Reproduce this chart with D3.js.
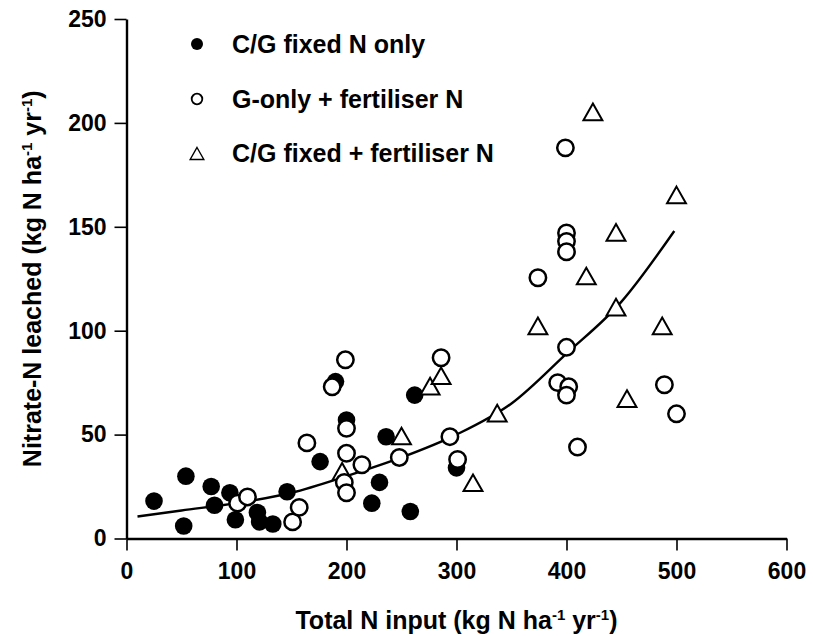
<!DOCTYPE html>
<html>
<head>
<meta charset="utf-8">
<script src="https://cdn.jsdelivr.net/npm/d3@7"></script>
<style>
  body { margin: 0; background: #fff; }
  text { font-family: "Liberation Sans", Arial, Helvetica, sans-serif; font-weight: bold; fill: #000; }
</style>
</head>
<body>
<div id="chart"></div>
<script>
var svgWidth = 813;
var svgHeight = 636;

var margin = { top: 19, right: 26, bottom: 97, left: 126.5 };
var width = 660;
var height = 519.5;

// data: [total N input, nitrate-N leached]
var fixedOnly = [
  [25, 18], [52, 6], [54, 30], [77, 25], [80, 16], [94, 22], [99, 9],
  [119, 12.5], [121, 8], [133, 7], [146, 22.5], [176, 37], [190, 75.5],
  [200, 57], [223, 17], [230, 27], [236, 49], [258, 13], [262, 69], [300, 34]
];
var gOnlyFert = [
  [101, 17], [110, 20], [151, 8], [157, 15], [164, 46], [187, 73], [199, 86],
  [198, 27], [200, 22], [200, 41], [200, 53], [214, 35.5], [248, 39], [286, 87],
  [294, 49], [301, 38], [374, 125.5], [392, 75], [400, 92], [399, 188],
  [400, 147], [400, 143], [400, 138], [402, 73], [400, 69], [410, 44],
  [489, 74], [500, 60]
];
var fixedFert = [
  [196, 32], [250, 49], [276, 73], [286, 78], [315, 26.5], [337, 60],
  [374, 102], [418, 126], [424, 205], [445, 147], [445, 111], [455, 67],
  [487, 102], [500, 165]
];
// fitted curve, points
var fitLine = [
  [10, 10.6], [50, 13.5], [100, 17], [150, 22], [200, 30], [250, 39],
  [300, 50], [350, 65], [400, 89], [450, 114], [498, 148]
];

var xTicks = [0, 100, 200, 300, 400, 500, 600];
var yTicks = [0, 50, 100, 150, 200, 250];
var legendLabels = ["C/G fixed N only", "G-only + fertiliser N", "C/G fixed + fertiliser N"];

var svg = d3.select("#chart")
  .append("svg")
  .attr("width", svgWidth)
  .attr("height", svgHeight);

var chartGroup = svg.append("g")
  .attr("transform", `translate(${margin.left}, ${margin.top})`);

var xScale = d3.scaleLinear().domain([0, 600]).range([0, width]);
var yScale = d3.scaleLinear().domain([0, 250]).range([height, 0]);

// axes
var xAxis = d3.axisBottom(xScale).tickValues(xTicks).tickSize(12).tickSizeOuter(0).tickPadding(12);
var yAxis = d3.axisLeft(yScale).tickValues(yTicks).tickSize(12).tickSizeOuter(0).tickPadding(8);

var xg = chartGroup.append("g")
  .attr("transform", `translate(0, ${height})`)
  .call(xAxis);
var yg = chartGroup.append("g").call(yAxis);

[xg, yg].forEach(function(g) {
  g.attr("font-family", null).attr("font-size", null);
  g.select(".domain").attr("stroke", "#000").attr("stroke-width", 2.4);
  g.selectAll(".tick line").attr("stroke", "#000").attr("stroke-width", 1.6);
  g.selectAll(".tick text").style("font-size", "23px");
});

// fitted curve
var line = d3.line()
  .x(d => xScale(d[0]))
  .y(d => yScale(d[1]))
  .curve(d3.curveMonotoneX);

chartGroup.append("path")
  .datum(fitLine)
  .attr("fill", "none")
  .attr("stroke", "#000")
  .attr("stroke-width", 2.4)
  .attr("d", line);

function triPath(s) {
  return `M0,${-s} L${s * 1.05},${s * 0.85} L${-s * 1.05},${s * 0.85} Z`;
}

// points
chartGroup.selectAll(".filled")
  .data(fixedOnly)
  .enter()
  .append("circle")
  .attr("cx", d => xScale(d[0]))
  .attr("cy", d => yScale(d[1]))
  .attr("r", 8.8)
  .attr("fill", "#000");

chartGroup.selectAll(".tri")
  .data(fixedFert)
  .enter()
  .append("path")
  .attr("transform", d => `translate(${xScale(d[0])}, ${yScale(d[1])})`)
  .attr("d", triPath(9))
  .attr("fill", "#fff")
  .attr("stroke", "#000")
  .attr("stroke-width", 2);

chartGroup.selectAll(".open")
  .data(gOnlyFert)
  .enter()
  .append("circle")
  .attr("cx", d => xScale(d[0]))
  .attr("cy", d => yScale(d[1]))
  .attr("r", 8.2)
  .attr("fill", "#fff")
  .attr("stroke", "#000")
  .attr("stroke-width", 2.5);

// legend
var legend = svg.append("g");
var legendY = [44, 99, 153];
legend.append("circle").attr("cx", 197).attr("cy", legendY[0]).attr("r", 6).attr("fill", "#000");
legend.append("circle").attr("cx", 197).attr("cy", legendY[1]).attr("r", 5.3)
  .attr("fill", "#fff").attr("stroke", "#000").attr("stroke-width", 1.8);
legend.append("path").attr("transform", `translate(197, ${legendY[2] + 1})`)
  .attr("d", triPath(6.5)).attr("fill", "#fff").attr("stroke", "#000").attr("stroke-width", 1.4);

legend.selectAll("text")
  .data(legendLabels)
  .enter()
  .append("text")
  .attr("x", 232)
  .attr("y", (d, i) => legendY[i] + 9)
  .style("font-size", "25px")
  .text(d => d);

// axis titles with superscripts
function unitLabel(sel, start) {
  sel.append("tspan").text(start + " (kg N ha");
  sel.append("tspan").attr("dy", -9).style("font-size", "15px").text("-1");
  sel.append("tspan").attr("dy", 9).text(" yr");
  sel.append("tspan").attr("dy", -9).style("font-size", "15px").text("-1");
  sel.append("tspan").attr("dy", 9).text(")");
}

var xTitle = svg.append("text")
  .attr("x", margin.left + width / 2)
  .attr("y", 629)
  .attr("text-anchor", "middle")
  .style("font-size", "25px");
unitLabel(xTitle, "Total N input");

var yTitle = svg.append("text")
  .attr("transform", `translate(41, ${margin.top + height / 2}) rotate(-90)`)
  .attr("text-anchor", "middle")
  .style("font-size", "25px");
unitLabel(yTitle, "Nitrate-N leached");
</script>
</body>
</html>
